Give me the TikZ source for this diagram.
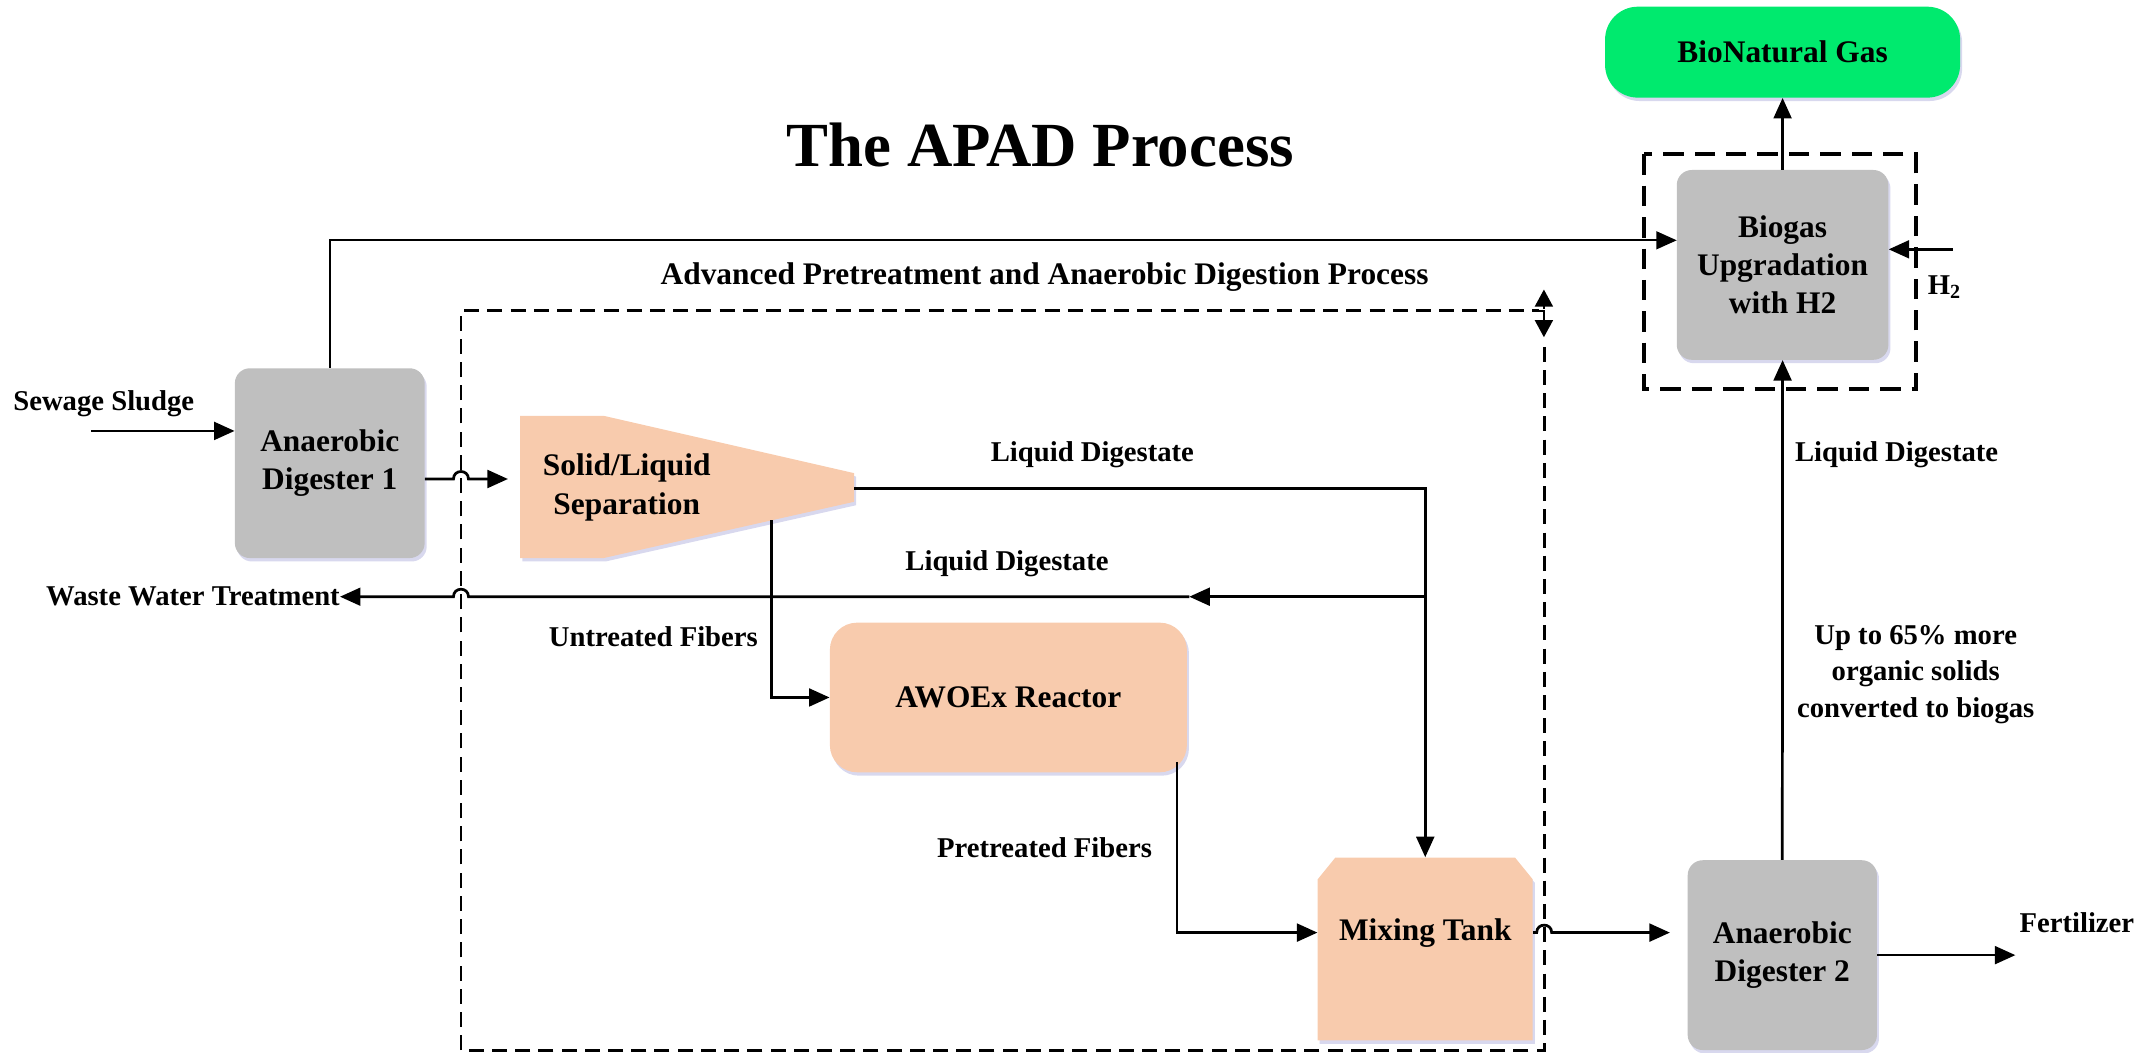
\documentclass[tikz,border=0pt]{standalone}
\usepackage{fontspec}
\setmainfont{Liberation Serif}
\usetikzlibrary{arrows.meta,shadows,calc}
\definecolor{boxgray}{HTML}{BFBFBF}
\definecolor{peach}{HTML}{F8CBAD}
\definecolor{gasgreen}{HTML}{00EA6E}
\newcommand\lblfont{\fontsize{21}{27}\selectfont\bfseries}
\newcommand\boxfont{\fontsize{23}{28}\selectfont\bfseries}
\newcommand\titlefont{\fontsize{46}{50}\selectfont\bfseries}
\begin{document}
\begin{tikzpicture}[x=1pt,y=-1pt,
  softshadow/.style={drop shadow={shadow xshift=1.5pt,shadow yshift=-2.5pt,fill=blue!40!gray,opacity=0.22}},
  gbox/.style={fill=boxgray, rounded corners=11pt, align=center, font=\boxfont, inner sep=0pt, softshadow},
  pbox/.style={fill=peach, rounded corners=20pt, align=center, font=\boxfont, inner sep=0pt, softshadow},
  txt/.style={font=\boxfont, align=center, inner sep=0pt},
  lbl/.style={font=\lblfont, align=center, inner sep=0pt},
  conn/.style={line width=2pt},
  arr/.style={line width=2pt, -{Triangle[length=15pt,width=13pt]}},
  arrsmall/.style={line width=1.8pt, -{Triangle[length=12.5pt,width=13pt]}},
  dashbig/.style={line width=2pt, dash pattern=on 11pt off 6pt},
  dashbg/.style={line width=3pt, dash pattern=on 15pt off 8pt}]
\useasboundingbox (0,0) rectangle (1568,771);

% title and group label
\node[font=\titlefont, inner sep=0pt] (title) at (762,106) {The APAD Process};
\node[lbl, font=\fontsize{23}{26}\selectfont\bfseries] (grouplbl) at (765,203) {Advanced Pretreatment and Anaerobic Digestion Process};

% shapes: polygons
\fill[peach, softshadow] (381,304.5) -- (442,304.5) -- (625.5,346.5) -- (625.5,367.5) -- (442,408.7) -- (381,408.7) -- cycle;
\fill[peach, softshadow] (965,644) -- (978,628) -- (1109.5,628) -- (1122.5,644) -- (1122.5,762) -- (965,762) -- cycle;

% nodes
\node[gbox, minimum width=139pt, minimum height=139pt] (AD1) at (241.5,339.2) {Anaerobic\\Digester 1};
\node[gbox, minimum width=155pt, minimum height=139pt] (BG) at (1305.5,194) {Biogas\\Upgradation\\with H2};
\node[gbox, minimum width=138.6pt, minimum height=139pt] (AD2) at (1305.3,699.5) {Anaerobic\\Digester 2};
\node[gbox, fill=gasgreen, rounded corners=24pt, minimum width=260pt, minimum height=66.6pt] (BNG) at (1305.5,38.2) {BioNatural Gas};
\node[pbox, minimum width=261.5pt, minimum height=109.6pt] (AW) at (738.5,510.8) {AWOEx Reactor};
\node[txt, minimum width=157.5pt, minimum height=110pt] (MT) at (1043.8,683) {Mixing Tank};
\node[txt] (SL) at (459,357) {Solid/Liquid\\Separation};

% labels
\node[lbl] (sewage) at (76,296) {Sewage Sludge};
\node[lbl, anchor=east] (WW) at (249,437) {Waste Water Treatment};
\node[lbl] (ld1) at (800,333) {Liquid Digestate};
\node[lbl] (ld2) at (737.5,413) {Liquid Digestate};
\node[lbl] (ld3) at (1389,333) {Liquid Digestate};
\node[lbl] (untr) at (478.5,466.5) {Untreated Fibers};
\node[lbl] (pretr) at (765,620.5) {Pretreated Fibers};
\node[lbl] (fertlbl) at (1521,675.5) {Fertilizer};
\node[lbl] (more) at (1403,494) {Up to 65\% more\\organic solids\\converted to biogas};
\node[lbl] (h2lbl) at (1424,210) {H\textsubscript{2}};

% named coordinates
\coordinate (sw) at (67,315.6);
\coordinate (SLin) at (372,350.8);
\coordinate (SLout) at (625.5,358);
\coordinate (SLbot) at (565,381);
\coordinate (split) at (1044,437);
\coordinate (mid) at (871,437);
\coordinate (bgin) at (1228,176);
\coordinate (awout) at (862,558);
\coordinate (ad2in) at (1223,683);
\coordinate (fert) at (1476,699.5);
\coordinate (h2) at (1430,182.6);

% dashed group boxes
\draw[dashbig] (1130.9,254) -- (1130.9,769.4) -- (337.6,769.4) -- (337.6,227.5) -- (1127,227.5);
\draw[dashbg] (1204,113) rectangle (1403,285);
\draw[arrsmall] (1130.7,226) -- (1130.7,212);
\draw[arrsmall] (1130.7,230) -- (1130.7,247);
\draw[line width=1.5pt] (1127.3,227.5) -- (1130.7,227.5) -- (1130.7,233);

% connectors
\draw[arr] (sw) -- (sw -| AD1.west);
\draw[arr] (AD1.east |- SLin) -- (332.1,350.8) .. controls (332.1,343.5) and (343.1,343.5) .. (343.1,350.8) -- (SLin);
\draw[arr, line width=1.7pt] (AD1.north) |- (bgin);
\draw[arr] (SLout) -| (MT.north);
\draw[arr] (split) -- (mid);
\draw[arr] (mid) -- (343.1,437) .. controls (343.1,429.7) and (332.1,429.7) .. (332.1,437) -- (WW.east);
\draw[arr] (SLbot) |- (AW.west);
\draw[arr] (awout) |- (MT.west);
\draw[arr] (MT.east) -- (1125.4,683) .. controls (1125.4,675.7) and (1136.4,675.7) .. (1136.4,683) -- (ad2in);
\draw[arr] (AD2.east |- fert) -- (fert);
\draw[arr] (AD2.north) -- (BG.south);
\draw[arr] (BG.north) -- (BNG.south);
\draw[arr] (h2) -- (h2 -| BG.east);
\end{tikzpicture}
\end{document}
